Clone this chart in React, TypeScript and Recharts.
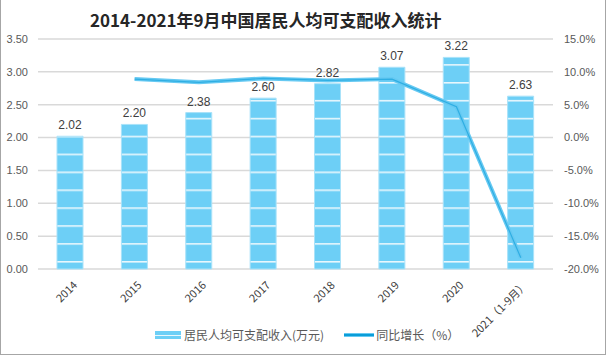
import React from 'react';
import { ComposedChart, Bar, Line, XAxis, YAxis, CartesianGrid, LabelList } from 'recharts';

// data
const years = ['2014', '2015', '2016', '2017', '2018', '2019', '2020', '2021（1-9月）'];
const income = [2.02, 2.2, 2.38, 2.6, 2.82, 3.07, 3.22, 2.63];
const growth = [null, 8.9, 8.4, 9.0, 8.7, 8.9, 4.7, -18.3];
const leftTicks = [0, 0.5, 1, 1.5, 2, 2.5, 3, 3.5];
const rightTicks = [-20, -15, -10, -5, 0, 5, 10, 15];

const data = years.map((year, i) => ({ year, income: income[i], growth: growth[i] }));

if (typeof document !== 'undefined') document.body.style.margin = '0';

const font = '"Liberation Sans", "Noto Sans CJK SC", sans-serif';
const cjk = '"Noto Sans CJK SC", "Liberation Sans", sans-serif';

const XTick = (props: any) => {
  const { x, y, payload } = props;
  const ax = x + 5;
  const ay = y + 6;
  return (
    <text
      x={ax}
      y={ay}
      textAnchor="end"
      transform={`rotate(-45, ${ax}, ${ay})`}
      fill="#404040"
      fontSize={11}
      fontFamily={cjk}
      dy={4}
    >
      {payload.value}
    </text>
  );
};

const App: React.FC = () => {
  return (
    <div
      style={{
        position: 'relative',
        width: 606,
        height: 355,
        boxSizing: 'border-box',
        borderLeft: '1px solid #a6a6a6',
        borderRight: '1px solid #a6a6a6',
        borderBottom: '1px solid #a6a6a6',
        background: '#fff',
        overflow: 'hidden',
      }}
    >
      <div
        style={{
          position: 'absolute',
          top: 9,
          left: 89,
          whiteSpace: 'nowrap',
          fontFamily: cjk,
          fontWeight: 'bold',
          fontSize: 17,
          color: '#262626',
          lineHeight: '22px',
        }}
      >
        2014-2021年9月中国居民人均可支配收入统计
      </div>

      <div style={{ position: 'absolute', left: -1, top: 0 }}>
        <ComposedChart width={606} height={355} data={data} margin={{ top: 39, right: 0, bottom: 0, left: 0 }}>
          <defs>
            <pattern id="barStripe" patternUnits="userSpaceOnUse" x="0" y="261" width="10" height="17.9">
              <rect x="0" y="0" width="10" height="17.9" fill="#6dcff6" />
              <rect x="0" y="0" width="10" height="1.6" fill="#e8f7fd" />
            </pattern>
          </defs>
          <CartesianGrid yAxisId="left" vertical={false} stroke="#d9d9d9" strokeWidth={1.5} />
          <XAxis
            dataKey="year"
            axisLine={false}
            tickLine={false}
            interval={0}
            tick={<XTick />}
            height={86}
          />
          <YAxis
            yAxisId="left"
            width={38}
            domain={[0, 3.5]}
            ticks={leftTicks}
            axisLine={false}
            tickLine={false}
            tickMargin={4}
            tickFormatter={(v) => v.toFixed(2)}
            tick={{ fill: '#595959', fontSize: 11, fontFamily: font }}
          />
          <YAxis
            yAxisId="right"
            orientation="right"
            width={53}
            domain={[-20, 15]}
            ticks={rightTicks}
            axisLine={false}
            tickLine={false}
            tickMargin={5}
            tickFormatter={(v) => `${v.toFixed(1)}%`}
            tick={{ fill: '#595959', fontSize: 11, fontFamily: font, textAnchor: 'start' }}
          />
          <Bar
            yAxisId="left"
            dataKey="income"
            barSize={26}
            fill="url(#barStripe)"
            stroke="#a9e2f9"
            strokeWidth={1}
            isAnimationActive={false}
          >
            <LabelList
              dataKey="income"
              position="top"
              offset={7}
              formatter={(v: any) => Number(v).toFixed(2)}
              style={{ fill: '#404040', fontSize: 12, fontFamily: font }}
            />
          </Bar>
          <Line
            yAxisId="right"
            dataKey="growth"
            type="linear"
            stroke="#66c9f2"
            strokeWidth={4}
            dot={false}
            activeDot={false}
            connectNulls={false}
            isAnimationActive={false}
          />
          <Line
            yAxisId="right"
            dataKey="growth"
            type="linear"
            stroke="#0a9dd8"
            strokeWidth={1.2}
            strokeOpacity={0.6}
            dot={false}
            activeDot={false}
            isAnimationActive={false}
          />
        </ComposedChart>
      </div>

      {/* legend */}
      <div
        style={{
          position: 'absolute',
          top: 326,
          left: 154,
          display: 'flex',
          alignItems: 'center',
          fontFamily: cjk,
          fontSize: 12,
          color: '#595959',
          lineHeight: '18px',
        }}
      >
        <span style={{ display: 'inline-block', width: 26, height: 8, marginRight: 3, background: '#6dcff6', position: 'relative' }}>
          <span style={{ position: 'absolute', left: 0, top: 3.5, width: 26, height: 1, background: '#e8f7fd' }} />
        </span>
        <span>居民人均可支配收入(万元)</span>
        <span
          style={{
            display: 'inline-block',
            width: 30,
            height: 4,
            marginLeft: 20,
            marginRight: 2,
            background: '#66c9f2',
            position: 'relative',
          }}
        >
          <span style={{ position: 'absolute', left: 0, top: 1, width: 30, height: 2, background: '#0a9dd8' }} />
        </span>
        <span>同比增长（%）</span>
      </div>
    </div>
  );
};

export default App;
